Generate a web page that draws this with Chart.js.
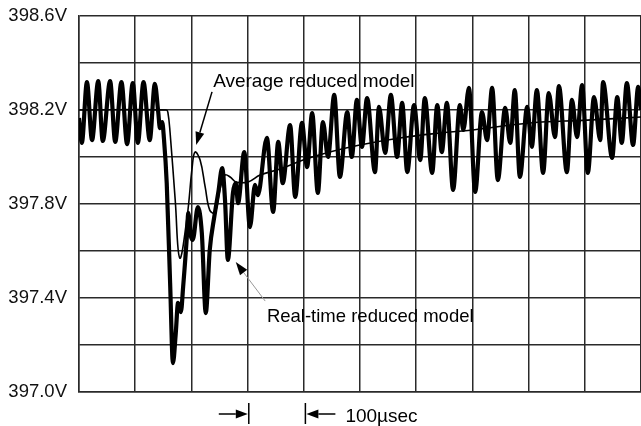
<!DOCTYPE html>
<html>
<head>
<meta charset="utf-8">
<script src="https://cdn.jsdelivr.net/npm/chart.js@4.4.1/dist/chart.umd.min.js"></script>
<style>
html,body{margin:0;padding:0;background:#fff;}
#wrap{width:641px;height:426px;position:relative;}
</style>
</head>
<body>
<div id="wrap"><canvas id="c" width="641" height="426"></canvas></div>
<script>
// Time in microseconds, voltage in volts
const rtTime = [0,5,14,23,34,42,55,64,75,85,
  95,104,114,125,134,140,143,147,150,155,
  161,166,171,175,180,184,191,193,198,201,
  210,217,224,231,239,246,253,258,263,272,
  277,281,292,302,311,316,332,343,352,360,
  373,382,394,403,412,422,431,440,451,461,
  474,482,491,500,509,523,530,541,551,562,
  571,580,592,603,611,624,633,641,650,661,
  673,679,689,700,712,721,730,740,753,762,
  770,779,792,800,809,820,830,841,848,862,
  871,880,889,899,910,921,926,942,951,959,
  968,979,988,993];
const rtVolt = [398.166,398.060,398.319,398.072,398.323,398.068,398.323,398.064,398.319,398.055,
  398.315,398.060,398.319,398.072,398.311,398.191,398.123,398.149,398.081,397.889,
  397.464,397.123,397.251,397.379,397.340,397.447,397.677,397.762,397.660,397.647,
  397.787,397.677,397.336,397.604,397.745,397.847,397.953,397.817,397.562,397.847,
  397.889,397.804,398.021,397.702,397.881,397.838,398.081,397.766,398.064,397.889,
  398.136,397.830,398.145,397.957,398.187,397.847,398.149,398.000,398.264,397.915,
  398.191,398.000,398.243,398.043,398.251,397.936,398.213,398.017,398.264,398.000,
  398.230,397.936,398.221,397.987,398.251,397.932,398.221,398.021,398.230,397.860,
  398.221,398.115,398.294,397.851,398.191,398.072,398.294,397.902,398.209,398.060,
  398.285,397.915,398.213,398.043,398.285,397.932,398.272,398.085,398.302,397.936,
  398.243,398.085,398.306,397.932,398.255,398.072,398.319,397.996,398.255,398.060,
  398.315,398.051,398.298,398.200];

const avgTime = [0,154,157,161,170,178,191,200,205,214,223,231,240,249,258,267,277,299,320,355,396,443,496,567,638,696,797,898,993];
const avgVolt = [398.200,398.200,398.191,398.102,397.817,397.570,397.745,397.957,398.021,397.987,397.872,397.774,397.762,397.860,397.923,397.915,397.894,397.894,397.923,397.949,397.987,398.021,398.051,398.081,398.102,398.115,398.145,398.157,398.170];

const yTickValues = [397.0,397.4,397.8,398.2,398.6];
const labelAvg = 'Average reduced model';
const labelRt = 'Real-time reduced model';
const scaleLabel = '100\u00B5sec';

const X_MIN = 0, X_MAX = 993, Y_MIN = 397.0, Y_MAX = 398.6;
const GRID = '#2a2a2a';
const FONT = '"Liberation Sans", Arial, sans-serif';

function arrow(ctx, x1, y1, x2, y2, lineColor, headLen, headW) {
  const ang = Math.atan2(y2 - y1, x2 - x1);
  const bx = x2 - headLen * Math.cos(ang), by = y2 - headLen * Math.sin(ang);
  ctx.strokeStyle = lineColor;
  ctx.beginPath(); ctx.moveTo(x1, y1); ctx.lineTo(bx, by); ctx.stroke();
  ctx.fillStyle = '#000';
  ctx.beginPath();
  ctx.moveTo(x2, y2);
  ctx.lineTo(bx + headW / 2 * Math.sin(ang), by - headW / 2 * Math.cos(ang));
  ctx.lineTo(bx - headW / 2 * Math.sin(ang), by + headW / 2 * Math.cos(ang));
  ctx.closePath(); ctx.fill();
}

const bgPlugin = {
  id: 'bg',
  beforeDraw(chart) {
    const ctx = chart.ctx;
    ctx.save(); ctx.fillStyle = '#fff';
    ctx.fillRect(0, 0, chart.width, chart.height); ctx.restore();
  }
};

const annotPlugin = {
  id: 'annot',
  afterDraw(chart) {
    const { ctx, chartArea } = chart;
    const xs = chart.scales.x, ys = chart.scales.y;
    const px = v => xs.getPixelForValue(v), py = v => ys.getPixelForValue(v);
    ctx.save();
    ctx.fillStyle = '#000';
    ctx.textBaseline = 'alphabetic';
    ctx.textAlign = 'left';
    // Average label + arrow
    ctx.font = '19px ' + FONT;
    ctx.fillText(labelAvg, px(237), py(398.298));
    ctx.lineWidth = 1.5;
    arrow(ctx, px(235), py(398.277), px(207), py(398.051), '#000', 13, 9);
    // Real-time label + arrow
    ctx.font = '18.5px ' + FONT;
    ctx.fillStyle = '#000';
    ctx.fillText(labelRt, px(332), py(397.298));
    ctx.lineWidth = 1;
    arrow(ctx, px(329), py(397.387), px(277), py(397.553), '#999', 13, 9);
    // bottom scale marker
    const b = chartArea.bottom;
    const x3 = px(300), x4 = px(400);
    ctx.strokeStyle = '#000'; ctx.lineWidth = 1.5;
    ctx.beginPath(); ctx.moveTo(x3, b + 11); ctx.lineTo(x3, b + 32); ctx.stroke();
    ctx.beginPath(); ctx.moveTo(x4, b + 11); ctx.lineTo(x4, b + 32); ctx.stroke();
    ctx.lineWidth = 1.5;
    arrow(ctx, x3 - 30, b + 22, x3 - 1, b + 22, '#000', 12, 9);
    arrow(ctx, x4 + 30, b + 22, x4 + 1, b + 22, '#000', 12, 9);
    ctx.font = '19px ' + FONT;
    ctx.fillStyle = '#000';
    ctx.fillText(scaleLabel, x4 + 40, b + 30);
    ctx.restore();
  }
};

new Chart(document.getElementById('c'), {
  type: 'line',
  data: {
    datasets: [
      {
        label: labelRt,
        data: rtTime.map((t, i) => ({ x: t, y: rtVolt[i] })),
        borderColor: '#000',
        borderWidth: 4.2,
        pointRadius: 0,
        cubicInterpolationMode: 'monotone',
        fill: false
      },
      {
        label: labelAvg,
        data: avgTime.map((t, i) => ({ x: t, y: avgVolt[i] })),
        borderColor: '#000',
        borderWidth: 1.6,
        pointRadius: 0,
        tension: 0.4,
        fill: false
      }
    ]
  },
  options: {
    responsive: false,
    animation: false,
    devicePixelRatio: 1,
    layout: { padding: { top: 16, right: 0, bottom: 0, left: 0 } },
    plugins: { legend: { display: false }, tooltip: { enabled: false } },
    scales: {
      x: {
        type: 'linear',
        min: X_MIN, max: X_MAX,
        ticks: { stepSize: 100, display: false },
        grid: { color: GRID, lineWidth: 1.5, drawTicks: false },
        border: { color: GRID, width: 1.5 },
        afterFit(s) { s.height = 34; s.paddingLeft = 0; s.paddingRight = 0; }
      },
      y: {
        type: 'linear',
        min: Y_MIN, max: Y_MAX,
        ticks: {
          stepSize: 0.2,
          padding: 12,
          color: '#111',
          font: { family: FONT, size: 18.5 },
          callback(v) {
            const hit = yTickValues.find(t => Math.abs(t - v) < 1e-6);
            return hit !== undefined ? hit.toFixed(1) + 'V' : '';
          }
        },
        grid: { color: GRID, lineWidth: 1.5, drawTicks: false },
        border: { color: GRID, width: 1.5 },
        afterFit(s) { s.width = 79; s.paddingTop = 0; s.paddingBottom = 0; }
      }
    }
  },
  plugins: [bgPlugin, annotPlugin]
});
</script>
</body>
</html>
